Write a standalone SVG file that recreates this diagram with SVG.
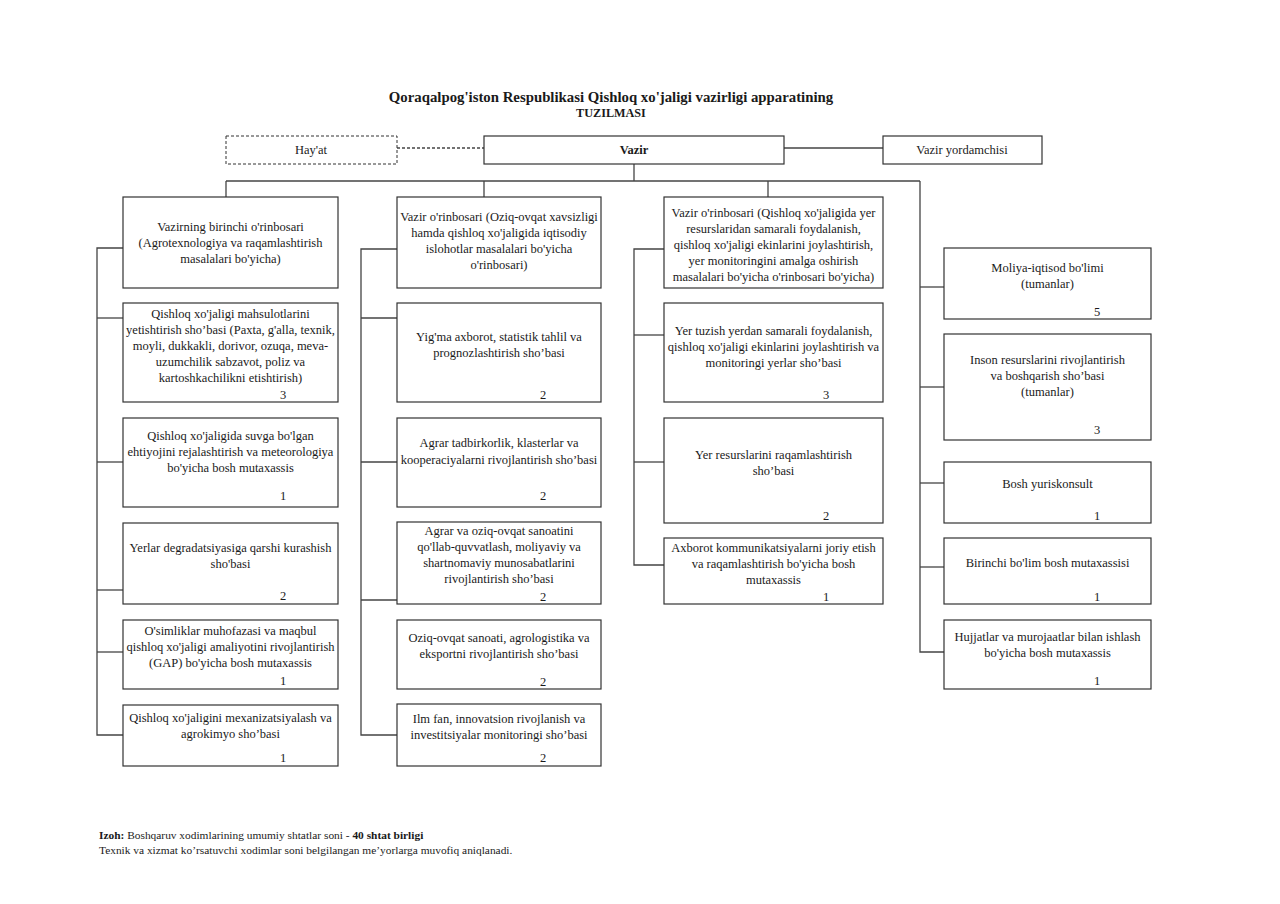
<svg xmlns="http://www.w3.org/2000/svg" width="1280" height="904" viewBox="0 0 1280 904" font-family="'Liberation Serif','Times New Roman',serif">
<style>
text{font-family:"Liberation Serif","Times New Roman",serif;fill:#1a1a1a}
.t{font-size:12.5px;text-anchor:middle}
.n{font-size:12.5px;text-anchor:middle}
.title{font-size:14.8px;font-weight:bold;text-anchor:middle}
.sub{font-size:12.2px;font-weight:bold;text-anchor:middle}
.box{fill:#fff;stroke:#333;stroke-width:1.2}
.dash{fill:#fff;stroke:#333;stroke-width:1;stroke-dasharray:3 2}
.ln{fill:none;stroke:#444;stroke-width:1.3}
.foot{font-size:11.4px}
</style>
<rect width="1280" height="904" fill="#fff"/>
<text class="title" x="611" y="102">Qoraqalpog'iston Respublikasi Qishloq xo'jaligi vazirligi apparatining</text>
<text class="sub" x="611" y="117">TUZILMASI</text>

<g id="connectors">
<line class="ln" x1="397" y1="148" x2="484" y2="148" stroke-dasharray="3 2"/>
<line class="ln" x1="784" y1="148" x2="883" y2="148"/>
<line class="ln" x1="634" y1="164" x2="634" y2="181"/>
<line class="ln" x1="226" y1="181" x2="920" y2="181"/>
<line class="ln" x1="226" y1="181" x2="226" y2="197"/>
<line class="ln" x1="484" y1="181" x2="484" y2="197"/>
<line class="ln" x1="768" y1="181" x2="768" y2="197"/>
<polyline class="ln" points="920,181 920,652 944,652"/>
<line class="ln" x1="920" y1="287" x2="944" y2="287"/>
<line class="ln" x1="920" y1="387" x2="944" y2="387"/>
<line class="ln" x1="920" y1="483" x2="944" y2="483"/>
<line class="ln" x1="920" y1="567" x2="944" y2="567"/>
<polyline class="ln" points="123,248 97,248 97,735 123,735"/>
<line class="ln" x1="97" y1="318" x2="123" y2="318"/>
<line class="ln" x1="97" y1="462" x2="123" y2="462"/>
<line class="ln" x1="97" y1="590" x2="123" y2="590"/>
<line class="ln" x1="97" y1="652" x2="123" y2="652"/>
<polyline class="ln" points="397,249 361,249 361,735 397,735"/>
<line class="ln" x1="361" y1="318" x2="397" y2="318"/>
<line class="ln" x1="361" y1="462" x2="397" y2="462"/>
<line class="ln" x1="361" y1="600" x2="397" y2="600"/>
<polyline class="ln" points="664,249 634,249 634,565 664,565"/>
<line class="ln" x1="634" y1="335" x2="664" y2="335"/>
<line class="ln" x1="634" y1="462" x2="664" y2="462"/>
</g>

<g id="hayat"><rect class="dash" x="226" y="136" width="171" height="28"/><text class="t" x="311" y="154">Hay'at</text></g>
<g id="vazir"><rect class="box" x="484" y="136" width="300" height="28"/><text class="t" x="634" y="154" font-weight="bold">Vazir</text></g>
<g id="yordamchi"><rect class="box" x="883" y="136" width="159" height="28"/><text class="t" x="962" y="154">Vazir yordamchisi</text></g>

<!-- Column 1 -->
<g id="c1b1"><rect class="box" x="123" y="197" width="215" height="91"/>
<text class="t" x="230.5" y="231">Vazirning birinchi o'rinbosari</text>
<text class="t" x="230.5" y="247">(Agrotexnologiya va raqamlashtirish</text>
<text class="t" x="230.5" y="263">masalalari bo'yicha)</text></g>
<g id="c1b2"><rect class="box" x="123" y="303" width="215" height="99"/>
<text class="t" x="230.5" y="318">Qishloq xo'jaligi mahsulotlarini</text>
<text class="t" x="230.5" y="334">yetishtirish sho’basi (Paxta, g'alla, texnik,</text>
<text class="t" x="230.5" y="350">moyli, dukkakli, dorivor, ozuqa, meva-</text>
<text class="t" x="230.5" y="366">uzumchilik sabzavot, poliz va</text>
<text class="t" x="230.5" y="382">kartoshkachilikni etishtirish)</text>
<text class="n" x="283" y="399">3</text></g>
<g id="c1b3"><rect class="box" x="123" y="418" width="215" height="89"/>
<text class="t" x="230.5" y="440">Qishloq xo'jaligida suvga bo'lgan</text>
<text class="t" x="230.5" y="456">ehtiyojini rejalashtirish va meteorologiya</text>
<text class="t" x="230.5" y="472">bo'yicha bosh mutaxassis</text>
<text class="n" x="283" y="500">1</text></g>
<g id="c1b4"><rect class="box" x="123" y="523" width="215" height="81"/>
<text class="t" x="230.5" y="552">Yerlar degradatsiyasiga qarshi kurashish</text>
<text class="t" x="230.5" y="568">sho'basi</text>
<text class="n" x="283" y="600">2</text></g>
<g id="c1b5"><rect class="box" x="123" y="620" width="215" height="69"/>
<text class="t" x="230.5" y="635">O'simliklar muhofazasi va maqbul</text>
<text class="t" x="230.5" y="651">qishloq xo'jaligi amaliyotini rivojlantirish</text>
<text class="t" x="230.5" y="667">(GAP) bo'yicha bosh mutaxassis</text>
<text class="n" x="283" y="685">1</text></g>
<g id="c1b6"><rect class="box" x="123" y="705" width="215" height="61"/>
<text class="t" x="230.5" y="722">Qishloq xo'jaligini mexanizatsiyalash  va</text>
<text class="t" x="230.5" y="738">agrokimyo sho’basi</text>
<text class="n" x="283" y="762">1</text></g>

<!-- Column 2 -->
<g id="c2b1"><rect class="box" x="397" y="197" width="204" height="91"/>
<text class="t" x="499" y="221">Vazir o'rinbosari (Oziq-ovqat xavsizligi</text>
<text class="t" x="499" y="237">hamda qishloq xo'jaligida iqtisodiy</text>
<text class="t" x="499" y="253">islohotlar  masalalari bo'yicha</text>
<text class="t" x="499" y="269">o'rinbosari)</text></g>
<g id="c2b2"><rect class="box" x="397" y="303" width="204" height="99"/>
<text class="t" x="499" y="341">Yig'ma axborot, statistik tahlil va</text>
<text class="t" x="499" y="357">prognozlashtirish sho’basi</text>
<text class="n" x="543" y="399">2</text></g>
<g id="c2b3"><rect class="box" x="397" y="418" width="204" height="89"/>
<text class="t" x="499" y="447">Agrar tadbirkorlik, klasterlar  va</text>
<text class="t" x="499" y="464">kooperaciyalarni rivojlantirish sho’basi</text>
<text class="n" x="543" y="500">2</text></g>
<g id="c2b4"><rect class="box" x="397" y="522" width="204" height="82"/>
<text class="t" x="499" y="535">Agrar va oziq-ovqat sanoatini</text>
<text class="t" x="499" y="551">qo'llab-quvvatlash, moliyaviy va</text>
<text class="t" x="499" y="567">shartnomaviy munosabatlarini</text>
<text class="t" x="499" y="583">rivojlantirish sho’basi</text>
<text class="n" x="543" y="601">2</text></g>
<g id="c2b5"><rect class="box" x="397" y="620" width="204" height="69"/>
<text class="t" x="499" y="642">Oziq-ovqat sanoati, agrologistika  va</text>
<text class="t" x="499" y="658">eksportni rivojlantirish  sho’basi</text>
<text class="n" x="543" y="686">2</text></g>
<g id="c2b6"><rect class="box" x="397" y="704" width="204" height="62"/>
<text class="t" x="499" y="723">Ilm fan, innovatsion rivojlanish va</text>
<text class="t" x="499" y="739">investitsiyalar monitoringi sho’basi</text>
<text class="n" x="543" y="762">2</text></g>

<!-- Column 3 -->
<g id="c3b1"><rect class="box" x="664" y="197" width="219" height="91"/>
<text class="t" x="773.5" y="217">Vazir o'rinbosari (Qishloq xo'jaligida yer</text>
<text class="t" x="773.5" y="233">resurslaridan samarali foydalanish,</text>
<text class="t" x="773.5" y="249">qishloq xo'jaligi ekinlarini joylashtirish,</text>
<text class="t" x="773.5" y="265">yer monitoringini amalga oshirish</text>
<text class="t" x="773.5" y="281">masalalari bo'yicha o'rinbosari bo'yicha)</text></g>
<g id="c3b2"><rect class="box" x="664" y="303" width="219" height="99"/>
<text class="t" x="773.5" y="335">Yer tuzish yerdan samarali foydalanish,</text>
<text class="t" x="773.5" y="351">qishloq xo'jaligi ekinlarini  joylashtirish va</text>
<text class="t" x="773.5" y="367">monitoringi yerlar sho’basi</text>
<text class="n" x="826" y="399">3</text></g>
<g id="c3b3"><rect class="box" x="664" y="418" width="219" height="105"/>
<text class="t" x="773.5" y="459">Yer resurslarini raqamlashtirish</text>
<text class="t" x="773.5" y="475">sho’basi</text>
<text class="n" x="826" y="520">2</text></g>
<g id="c3b4"><rect class="box" x="664" y="538" width="219" height="66"/>
<text class="t" x="773.5" y="552">Axborot kommunikatsiyalarni joriy etish</text>
<text class="t" x="773.5" y="568">va raqamlashtirish bo'yicha bosh</text>
<text class="t" x="773.5" y="584">mutaxassis</text>
<text class="n" x="826" y="601">1</text></g>

<!-- Column 4 -->
<g id="c4b1"><rect class="box" x="944" y="248" width="207" height="71"/>
<text class="t" x="1047.5" y="272">Moliya-iqtisod bo'limi</text>
<text class="t" x="1047.5" y="288">(tumanlar)</text>
<text class="n" x="1097" y="316">5</text></g>
<g id="c4b2"><rect class="box" x="944" y="334" width="207" height="106"/>
<text class="t" x="1047.5" y="364">Inson resurslarini rivojlantirish</text>
<text class="t" x="1047.5" y="380">va boshqarish sho’basi</text>
<text class="t" x="1047.5" y="396">(tumanlar)</text>
<text class="n" x="1097" y="434">3</text></g>
<g id="c4b3"><rect class="box" x="944" y="462" width="207" height="61"/>
<text class="t" x="1047.5" y="488">Bosh yuriskonsult</text>
<text class="n" x="1097" y="520">1</text></g>
<g id="c4b4"><rect class="box" x="944" y="538" width="207" height="66"/>
<text class="t" x="1047.5" y="567">Birinchi bo'lim bosh mutaxassisi</text>
<text class="n" x="1097" y="601">1</text></g>
<g id="c4b5"><rect class="box" x="944" y="620" width="207" height="69"/>
<text class="t" x="1047.5" y="641">Hujjatlar va murojaatlar bilan ishlash</text>
<text class="t" x="1047.5" y="657">bo'yicha bosh mutaxassis</text>
<text class="n" x="1097" y="685">1</text></g>

<g id="footnote">
<text class="foot" x="99" y="839"><tspan font-weight="bold">Izoh:</tspan> Boshqaruv xodimlarining umumiy shtatlar soni - <tspan font-weight="bold">40 shtat birligi</tspan></text>
<text class="foot" x="99" y="854">Texnik va xizmat ko’rsatuvchi xodimlar soni belgilangan me’yorlarga muvofiq aniqlanadi.</text>
</g>
</svg>
